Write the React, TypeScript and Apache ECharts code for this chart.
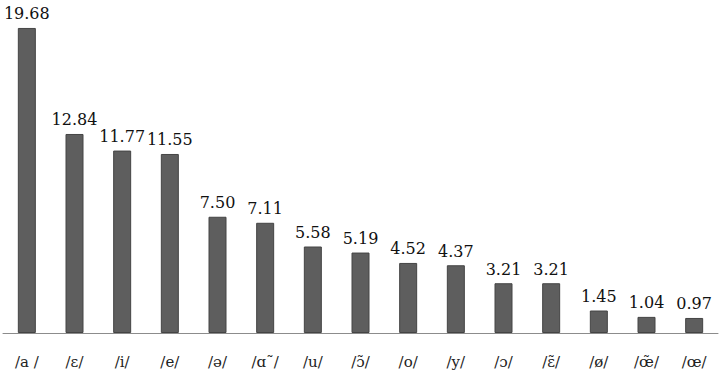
import React, { useEffect, useRef } from "react";
import * as echarts from "echarts";

const categories = ["/a /", "/ɛ/", "/i/", "/e/", "/ə/", "/ɑ˜/", "/u/", "/ɔ̃/", "/o/", "/y/", "/ɔ/", "/ɛ̃/", "/ø/", "/œ̃/", "/œ/"];
const values = [19.68, 12.84, 11.77, 11.55, 7.5, 7.11, 5.58, 5.19, 4.52, 4.37, 3.21, 3.21, 1.45, 1.04, 0.97];

export default function App() {
  const ref = useRef<HTMLDivElement>(null);
  useEffect(() => {
    document.body.style.margin = "0";
    const chart = echarts.init(ref.current!, null, { renderer: "svg" });
    chart.setOption({
      animation: false,
      grid: { left: 3, right: 3, top: 23, bottom: 40 },
      xAxis: {
        type: "category",
        data: categories,
        axisLine: { lineStyle: { color: "#8c8c8c", width: 1 } },
        axisTick: { show: false },
        axisLabel: {
          interval: 0,
          margin: 21,
          fontFamily: "DejaVu Serif",
          fontSize: 15,
          color: "#222",
        },
      },
      yAxis: {
        type: "value",
        min: 0,
        max: 20,
        show: false,
        splitLine: { show: false },
      },
      series: [
        {
          type: "bar",
          data: values,
          barWidth: 18,
          itemStyle: { color: "#5e5e5e", borderColor: "#444", borderWidth: 1 },
          label: {
            show: true,
            position: "top",
            distance: 6,
            formatter: (p: any) => p.value.toFixed(2),
            fontFamily: "DejaVu Serif",
            fontSize: 16,
            color: "#111",
          },
        },
      ],
    });
    return () => chart.dispose();
  }, []);
  return <div ref={ref} style={{ width: 721, height: 373 }} />;
}
